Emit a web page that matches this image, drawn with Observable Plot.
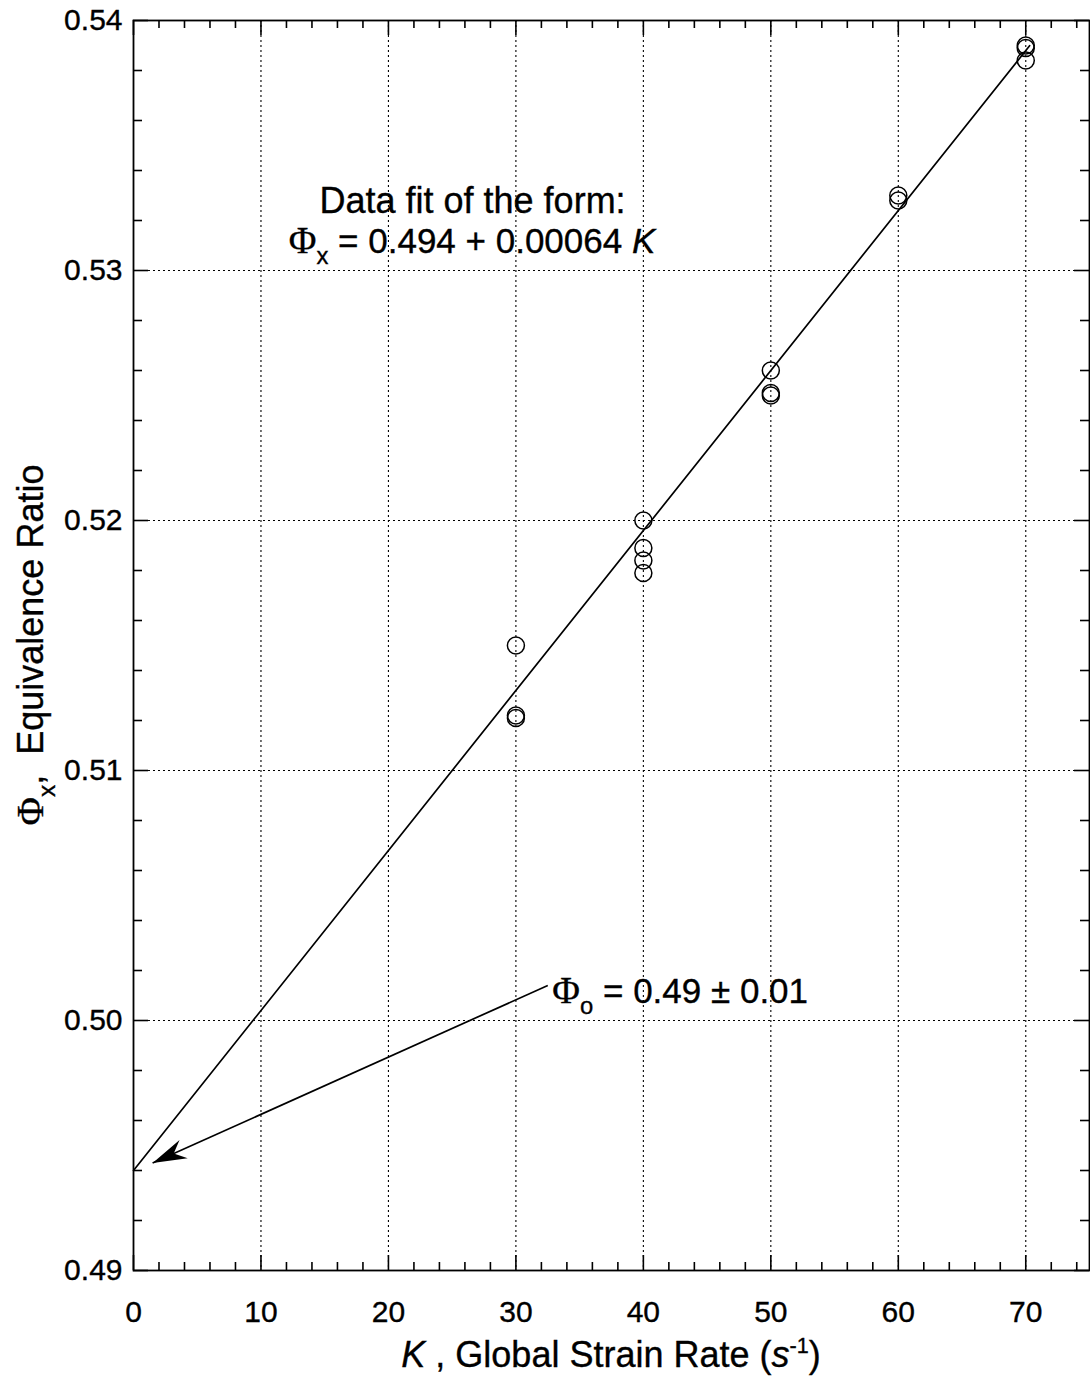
<!DOCTYPE html>
<html><head><meta charset="utf-8">
<script src="https://cdn.jsdelivr.net/npm/d3@7"></script>
<script src="https://cdn.jsdelivr.net/npm/@observablehq/plot@0.6"></script>
<style>
body{margin:0;background:#fff}
#chart svg text { stroke: black; stroke-width: 0.35px; }
</style>
</head><body><div id="chart"></div>
<script>
// ---- data ----
const strainRate = [30, 30, 30, 40, 40, 40, 40, 50, 50, 50, 60, 60, 70, 70, 70];
const phiX = [0.5150, 0.5122, 0.5121, 0.5200, 0.5189, 0.5184, 0.5179, 0.5260, 0.5251, 0.5250, 0.5330, 0.5328, 0.5390, 0.5389, 0.5384];
const fitK = [0, 70.3];
const fitPhi = [0.494, 0.53899];
const arrowK = [32.5, 1.5];      // tail, tip
const arrowPhi = [0.5014, 0.4943];
const xMajor = [0, 10, 20, 30, 40, 50, 60, 70];
const xMinor = [2, 4, 6, 8, 12, 14, 16, 18, 22, 24, 26, 28, 32, 34, 36, 38, 42, 44, 46, 48, 52, 54, 56, 58, 62, 64, 66, 68, 72, 74];
const yMajor = [0.49, 0.50, 0.51, 0.52, 0.53, 0.54];
const yMinor = [0.492, 0.494, 0.496, 0.498, 0.502, 0.504, 0.506, 0.508, 0.512, 0.514, 0.516, 0.518, 0.522, 0.524, 0.526, 0.528, 0.532, 0.534, 0.536, 0.538];
const noteFit = {k: 26.6, phi: 0.5323, text: "Data fit of the form:"};
const noteFormula = {k: 26.6, phi: 0.5307};
const noteZero = {k: 32.9, phi: 0.5007};

const W = 1090, H = 1399, mL = 133, mR = 1, mT = 20, mB = 129;
const plotW = W - mL - mR, plotH = H - mT - mB;
const FONT = "'Liberation Sans', Arial, Helvetica, sans-serif";

const points = strainRate.map((k, i) => ({k, phi: phiX[i]}));
const fit = fitK.map((k, i) => ({k, phi: fitPhi[i]}));
const arrow = [{k1: arrowK[0], p1: arrowPhi[0], k2: arrowK[1], p2: arrowPhi[1]}];

// angle for arrowhead
const sx = Plot.scale({x: {domain: [0, 75], range: [mL, W - mR]}});
const sy = Plot.scale({y: {domain: [0.49, 0.54], range: [H - mB, mT]}});
const dxp = sx.apply(arrowK[1]) - sx.apply(arrowK[0]);
const dyp = sy.apply(arrowPhi[1]) - sy.apply(arrowPhi[0]);
const headAngle = Math.atan2(dxp, -dyp) * 180 / Math.PI;

const arrowHead = {
  draw(ctx) {
    const L = 34, w = 20;
    ctx.moveTo(0, 0);
    ctx.lineTo(w / 2, L);
    ctx.lineTo(0, L * 0.68);
    ctx.lineTo(-w / 2, L);
    ctx.closePath();
  }
};

const dash = "2,3";
const plot = Plot.plot({
  width: W, height: H,
  marginLeft: mL, marginRight: mR, marginTop: mT, marginBottom: mB,
  x: {domain: [0, 75]},
  y: {domain: [0.49, 0.54]},
  style: {fontFamily: FONT, fontSize: "30px", color: "black", background: "white", overflow: "visible"},
  marks: [
    Plot.ruleX(xMajor.slice(1), {stroke: "black", strokeWidth: 1.1, strokeDasharray: dash}),
    Plot.ruleY(yMajor.slice(1, -1), {stroke: "black", strokeWidth: 1.1, strokeDasharray: dash}),
    // inward ticks: bottom / top
    Plot.ruleX(xMinor, {stroke: "black", strokeWidth: 1.6, insetTop: plotH - 8}),
    Plot.ruleX(xMajor, {stroke: "black", strokeWidth: 1.6, insetTop: plotH - 15}),
    Plot.ruleX(xMinor, {stroke: "black", strokeWidth: 1.6, insetBottom: plotH - 8}),
    Plot.ruleX(xMajor, {stroke: "black", strokeWidth: 1.6, insetBottom: plotH - 15}),
    // left / right
    Plot.ruleY(yMinor, {stroke: "black", strokeWidth: 1.6, insetRight: plotW - 9}),
    Plot.ruleY(yMajor, {stroke: "black", strokeWidth: 1.6, insetRight: plotW - 15}),
    Plot.ruleY(yMinor, {stroke: "black", strokeWidth: 1.6, insetLeft: plotW - 9}),
    Plot.ruleY(yMajor, {stroke: "black", strokeWidth: 1.6, insetLeft: plotW - 15}),
    Plot.line(fit, {x: "k", y: "phi", stroke: "black", strokeWidth: 1.7}),
    Plot.dot(points, {x: "k", y: "phi", r: 8.5, stroke: "black", fill: "none", strokeWidth: 1.5}),
    Plot.link(arrow, {x1: "k1", y1: "p1", x2: "k2", y2: "p2", stroke: "black", strokeWidth: 1.7}),
    Plot.dot(arrow, {x: "k2", y: "p2", symbol: arrowHead, rotate: headAngle, fill: "black", stroke: "none", r: 5}),
    Plot.text([noteFit], {x: "k", y: "phi", text: "text", fontSize: 36, textAnchor: "middle", lineAnchor: "bottom", fill: "black"}),
    Plot.frame({stroke: "black", strokeWidth: 1.8}),
    Plot.axisX({ticks: xMajor, tickSize: 0, tickPadding: 30, label: null}),
    Plot.axisY({ticks: yMajor, tickSize: 0, tickPadding: 11, tickFormat: ".2f", label: null})
  ]
});

document.getElementById("chart").appendChild(plot);

// rich text with sub/superscripts, positioned through the plot's scales
const X = plot.scale("x"), Y = plot.scale("y");
const svg = d3.select(plot);
function rich(x, y, parts, size, anchor, rotate) {
  const t = svg.append("text")
    .attr("font-family", FONT).attr("font-size", size).attr("fill", "black")
    .attr("text-anchor", anchor || "start");
  if (rotate) t.attr("transform", `translate(${x},${y}) rotate(${rotate})`);
  else t.attr("x", x).attr("y", y);
  let shift = 0;
  for (const p of parts) {
    const s = t.append("tspan").text(p.t);
    let target = 0;
    if (p.sub) { target = size * 0.32; s.attr("font-size", size * 0.68); }
    if (p.sup) { target = -size * 0.38; s.attr("font-size", size * 0.6); }
    if (p.italic) s.attr("font-style", "italic");
    if (p.serif) s.attr("font-family", "'Liberation Serif', 'DejaVu Serif', serif").attr("font-size", size * 1.08);
    if (target !== shift) { s.attr("dy", target - shift); shift = target; }
  }
  return t;
}
rich(X.apply(noteFormula.k), Y.apply(noteFormula.phi),
  [{t: "Φ", serif: true}, {t: "x", sub: true}, {t: " = 0.494 + 0.00064 "}, {t: "K", italic: true}], 35, "middle");
rich(X.apply(noteZero.k), Y.apply(noteZero.phi),
  [{t: "Φ", serif: true}, {t: "o", sub: true}, {t: " = 0.49 ± 0.01"}], 35, "start");
const xr = X.range, yr = Y.range;
rich((xr[0] + xr[1]) / 2, H - 32,
  [{t: "K", italic: true}, {t: " , Global Strain Rate ("}, {t: "s", italic: true}, {t: "-1", sup: true}, {t: ")"}], 36, "middle");
rich(43, (yr[0] + yr[1]) / 2,
  [{t: "Φ", serif: true}, {t: "x", sub: true}, {t: ",  Equivalence Ratio"}], 36, "middle", -90);
</script>
</body></html>
